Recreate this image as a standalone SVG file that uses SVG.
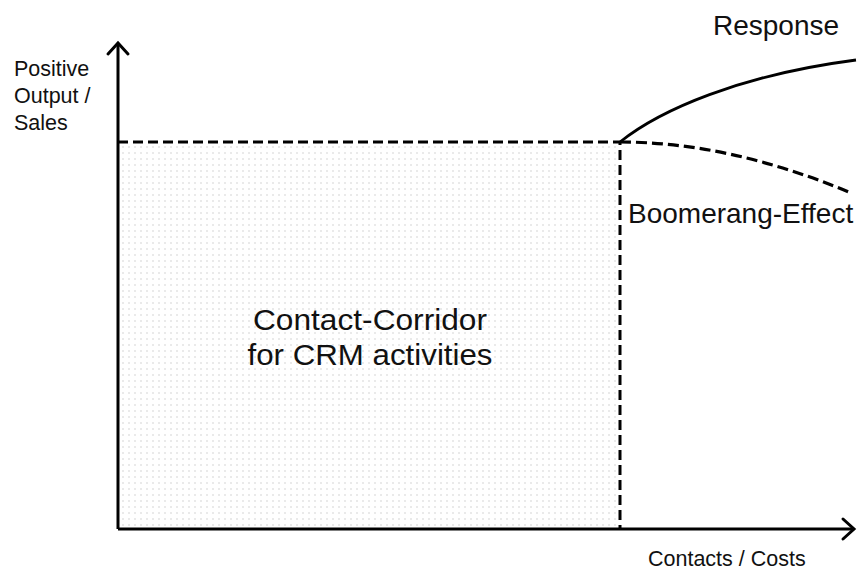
<svg xmlns="http://www.w3.org/2000/svg" width="863" height="571" viewBox="0 0 863 571">
  <style>
    .lbl { font-family: "Liberation Sans", Arial, sans-serif; fill: #111; }
    .axis { stroke: #000; stroke-width: 3; fill: none; }
    .head { stroke: #000; stroke-width: 3; fill: none; stroke-linecap: round; stroke-linejoin: miter; }
    .dash { stroke: #000; stroke-width: 3; fill: none; stroke-dasharray: 10 5; }
  </style>
  <defs>
    <pattern id="dots" width="6" height="6" patternUnits="userSpaceOnUse">
      <circle cx="3" cy="3" r="0.7" fill="#c4c4c4"/>
    </pattern>
  </defs>
  <rect width="863" height="571" fill="#fff"/>

  <!-- contact corridor area -->
  <g id="corridor">
    <rect x="118" y="142" width="502" height="387" fill="url(#dots)"/>
    <path class="dash" d="M118 142 H620 V529"/>
    <text class="lbl" x="370" y="330" font-size="29" text-anchor="middle" textLength="234" lengthAdjust="spacingAndGlyphs">Contact-Corridor</text>
    <text class="lbl" x="370" y="365" font-size="29" text-anchor="middle" textLength="245" lengthAdjust="spacingAndGlyphs">for CRM activities</text>
  </g>

  <!-- axes -->
  <g id="axes">
    <path class="axis" d="M118 529 V43"/>
    <path class="head" d="M108 54 L118 43 L128 54"/>
    <path class="axis" d="M118 529 H854"/>
    <path class="head" d="M843 519 L854 529 L843 539"/>
    <text class="lbl" x="14" y="76" font-size="21.5">Positive</text>
    <text class="lbl" x="14" y="103" font-size="21.5">Output /</text>
    <text class="lbl" x="14" y="130" font-size="21.5">Sales</text>
    <text class="lbl" x="648" y="566" font-size="21.5">Contacts / Costs</text>
  </g>

  <!-- response curves -->
  <g id="connectors">
    <path d="M620 142 C660 110 740 75 856 60" stroke="#000" stroke-width="2.8" fill="none"/>
    <path d="M620 142 Q730 142 851 193" stroke="#000" stroke-width="3.2" fill="none" stroke-dasharray="11 5"/>
  </g>
  <g id="response">
    <text class="lbl" x="713" y="35" font-size="28">Response</text>
  </g>
  <g id="boomerang">
    <text class="lbl" x="628" y="223" font-size="28">Boomerang-Effect</text>
  </g>
</svg>
